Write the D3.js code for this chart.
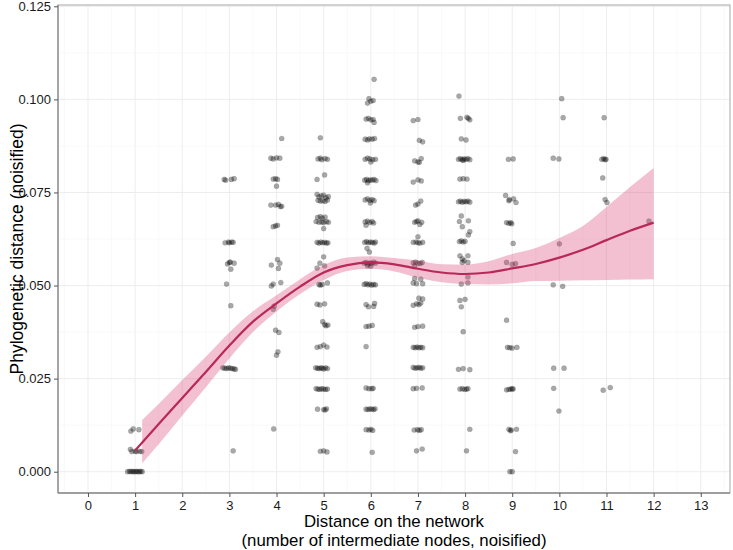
<!DOCTYPE html>
<html><head><meta charset="utf-8">
<script src="https://cdn.jsdelivr.net/npm/d3@7"></script>
<style>body{margin:0;background:#fff}svg{display:block}text{font-family:"Liberation Sans",Arial,sans-serif}</style>
</head><body><svg id="c" width="733" height="550"></svg>
<script>
// ---- data ----
const xTicks = [0,1,2,3,4,5,6,7,8,9,10,11,12,13];
const yTicks = [0.000,0.025,0.050,0.075,0.100,0.125];
const yTickLabels = ["0.000","0.025","0.050","0.075","0.100","0.125"];

const ptsD1 = [[0.84,0],[0.88,0.0001],[0.91,0],[0.94,0.0001],[0.97,0],[1.0,0],[1.03,0.0001],[1.06,0],[1.09,0],[1.12,0.0001],[1.15,0],
 [0.9,0.006],[0.93,0.0054],[1.0,0.0055],[1.03,0.0054],[1.1,0.0055],[1.14,0.0054],[0.91,0.0109],[0.96,0.0115],[1.08,0.0113]];
const ptsD3 = [[2.89,0.0785],[2.92,0.0783],[3.04,0.0785],[3.1,0.0787],
 [2.91,0.0615],[2.98,0.0617],[3.0,0.0615],[3.05,0.0617],[3.08,0.0616],
 [2.96,0.0558],[3.0,0.0562],[3.02,0.0563],[3.1,0.056],[3.03,0.0544],[2.94,0.0504],[3.03,0.0446],
 [2.86,0.0279],[2.9,0.0278],[2.94,0.0277],[2.98,0.0279],[3.02,0.0278],[3.06,0.0277],[3.1,0.0276],[3.13,0.0275],[3.08,0.0056]];
const ptsD4 = [[4.11,0.0895],[3.88,0.0842],[3.93,0.084],[4.0,0.0843],[4.07,0.0842],
 [3.93,0.0786],[3.98,0.0787],[4.02,0.0785],[4.0,0.0767],
 [3.88,0.0716],[3.98,0.0716],[4.04,0.0718],[4.11,0.0713],[4.08,0.0712],
 [3.93,0.0658],[3.98,0.066],[4.02,0.0662],[4.02,0.057],[3.89,0.0555],[4.07,0.056],[4.04,0.0546],
 [3.89,0.0499],[3.93,0.0504],[4.09,0.0508],[3.93,0.0436],[3.95,0.0445],[3.98,0.038],[4.05,0.0374],
 [4.0,0.0313],[4.03,0.0322],[3.94,0.0115]];
const ptsD5 = [[4.93,0.0897],[4.88,0.084],[4.93,0.0842],[4.96,0.0838],[5.03,0.0841],[5.08,0.0839],
 [4.86,0.0785],[5.02,0.0797],
 [4.86,0.0745],[4.9,0.0738],[4.95,0.0741],[5.0,0.0743],[5.05,0.0736],[5.1,0.0739],
 [4.88,0.0729],[4.93,0.0727],[4.98,0.0728],[5.03,0.0726],[5.08,0.073],
 [4.87,0.0683],[4.93,0.0685],[4.97,0.0681],[5.03,0.0684],
 [4.84,0.0672],[4.9,0.067],[4.96,0.0671],[5.0,0.0669],[5.06,0.0672],[5.1,0.067],[5.0,0.0653],
 [4.86,0.0616],[4.9,0.0614],[4.94,0.0617],[4.98,0.0615],[5.02,0.0616],[5.06,0.0614],[5.09,0.0615],
 [5.0,0.0577],[4.86,0.0547],[4.92,0.056],[5.02,0.0553],[5.08,0.0507],
 [4.9,0.0503],[4.93,0.0501],[4.97,0.0503],[4.86,0.045],[4.92,0.0448],[5.02,0.0451],
 [4.98,0.0403],[5.02,0.0395],[5.05,0.0392],[5.09,0.0394],
 [4.86,0.0334],[4.93,0.0336],[5.0,0.034],[5.07,0.0335],
 [4.83,0.0279],[4.87,0.0278],[4.9,0.0277],[4.94,0.0279],[4.97,0.0278],[5.0,0.0276],[5.04,0.0279],[5.08,0.0277],
 [4.84,0.0223],[4.88,0.0222],[4.92,0.0221],[4.96,0.0223],[5.0,0.0222],[5.04,0.0221],[5.08,0.0222],
 [4.87,0.0168],[5.0,0.0167],[5.06,0.0169],[5.03,0.0166],[4.93,0.0055],[5.0,0.0056],[5.07,0.0053]];
const ptsD6 = [[6.07,0.1054],[5.96,0.1002],[6.0,0.0995],[6.05,0.0997],[5.93,0.099],
 [5.9,0.0947],[5.95,0.0949],[6.0,0.0945],[6.05,0.0946],[6.07,0.0938],
 [5.88,0.0893],[5.93,0.0891],[5.97,0.0894],[6.03,0.0893],[6.08,0.0895],
 [5.88,0.0839],[5.93,0.0842],[5.98,0.084],[6.04,0.0838],[6.1,0.0839],[6.0,0.0832],
 [5.87,0.0783],[5.91,0.0785],[5.95,0.0782],[5.99,0.0784],[6.03,0.0783],[6.07,0.0785],[6.11,0.0782],[5.93,0.0776],
 [5.88,0.073],[5.93,0.0733],[5.98,0.0729],[6.03,0.0731],[6.07,0.0728],[5.99,0.0722],
 [5.88,0.0671],[5.93,0.0673],[5.98,0.0669],[6.03,0.0672],[6.06,0.0668],[5.9,0.0662],
 [5.87,0.0616],[5.91,0.0618],[5.95,0.0615],[5.99,0.0617],[6.03,0.0616],[6.07,0.0614],[6.1,0.0617],[5.92,0.06],[5.97,0.059],
 [5.86,0.056],[5.9,0.0562],[5.94,0.0558],[5.98,0.0561],[6.02,0.0559],[6.06,0.0563],[6.1,0.056],[5.93,0.0553],[6.0,0.0552],
 [5.86,0.0503],[5.9,0.0505],[5.94,0.0502],[5.98,0.0504],[6.02,0.0501],[6.06,0.0503],[6.1,0.0502],
 [5.9,0.0449],[5.95,0.0443],[6.08,0.0452],[6.06,0.0444],[5.9,0.039],[5.96,0.0391],[6.03,0.0393],[5.9,0.0336],
 [5.9,0.0225],[5.96,0.0223],[6.02,0.0223],[6.05,0.0224],
 [5.9,0.0168],[5.94,0.0167],[5.98,0.0169],[6.02,0.0168],[6.06,0.0167],[6.09,0.0169],
 [5.9,0.0113],[5.96,0.0112],[6.04,0.0111],[6.0,0.0114],[6.03,0.0052]];
const ptsD7 = [[6.9,0.0943],[7.0,0.0946],[7.03,0.089],[7.1,0.0886],
 [6.93,0.0835],[7.0,0.0832],[7.07,0.0841],[7.03,0.0831],[6.9,0.0778],[7.0,0.0784],[7.07,0.0781],
 [7.06,0.0727],[6.95,0.0716],[7.0,0.0719],
 [6.93,0.067],[7.0,0.0674],[7.08,0.067],[7.04,0.0664],[6.97,0.0672],
 [7.0,0.0631],[6.9,0.0616],[6.96,0.0617],[7.0,0.0615],[7.04,0.0614],[7.1,0.0616],
 [6.9,0.0561],[6.95,0.0563],[7.0,0.056],[7.05,0.0559],[7.09,0.0562],[6.93,0.0552],
 [6.93,0.0519],[7.06,0.0517],[6.9,0.0507],[6.97,0.0505],[7.1,0.0505],[7.02,0.0466],[7.1,0.0464],
 [6.9,0.0447],[6.97,0.0451],[7.06,0.0453],[7.02,0.0449],[6.93,0.0388],[7.0,0.039],[7.1,0.0391],
 [6.9,0.0334],[6.94,0.0333],[6.98,0.0335],[7.02,0.0333],[7.06,0.0334],[7.1,0.0333],
 [6.9,0.028],[6.94,0.0278],[6.98,0.0279],[7.02,0.028],[7.06,0.0278],[7.1,0.0279],
 [6.9,0.0223],[6.97,0.0224],[7.09,0.0225],[6.92,0.0112],[6.99,0.0113],[7.07,0.0113],[7.03,0.0111],
 [6.97,0.0056],[7.09,0.0061]];
const ptsD8 = [[7.87,0.1009],[7.9,0.0949],[8.04,0.0952],[8.1,0.0945],[8.07,0.0949],[7.92,0.0894],[8.02,0.0891],
 [7.86,0.0839],[7.9,0.0841],[7.94,0.0838],[7.98,0.084],[8.02,0.0839],[8.06,0.0841],[8.1,0.0838],[7.96,0.0836],
 [7.89,0.0786],[7.96,0.0787],[8.04,0.0786],
 [7.86,0.0725],[7.9,0.0727],[7.94,0.0724],[7.98,0.0726],[8.02,0.0725],[8.06,0.0727],[8.1,0.0724],
 [7.92,0.0687],[7.88,0.0672],[8.07,0.0674],[7.94,0.0658],
 [8.1,0.0645],[8.07,0.0636],[7.88,0.0618],[7.92,0.062],[7.96,0.0617],[8.0,0.0619],
 [7.89,0.058],[8.06,0.058],[7.94,0.0572],[7.98,0.0567],[8.06,0.0562],[7.94,0.0562],
 [8.06,0.0523],[7.92,0.0504],[8.06,0.0507],[7.89,0.046],[8.0,0.0463],[7.92,0.0443],[7.96,0.0376],
 [7.86,0.0275],[7.96,0.0277],[8.1,0.0274],
 [7.89,0.0222],[7.94,0.0223],[7.99,0.0221],[8.03,0.0222],[8.06,0.0223],[8.1,0.0114],[8.03,0.0056]];
const ptsD9 = [[8.92,0.0839],[9.02,0.084],[8.86,0.0742],[8.94,0.0731],[9.03,0.0733],[9.08,0.0723],[8.93,0.0728],
 [8.88,0.0669],[8.93,0.0667],[8.97,0.0669],[8.99,0.0666],[9.02,0.0613],
 [8.88,0.0562],[9.0,0.0557],[9.07,0.0559],[8.88,0.0407],
 [8.9,0.0334],[8.95,0.0333],[9.0,0.0332],[9.1,0.0334],
 [8.88,0.022],[8.93,0.0221],[8.97,0.0222],[9.0,0.0223],[9.02,0.0222],
 [8.93,0.0114],[8.96,0.011],[8.98,0.0112],[9.09,0.0114],[9.07,0.0054],[8.95,0.0],[9.0,0.0]];
const ptsD10 = [[10.05,0.1002],[10.08,0.0951],[9.87,0.0842],[9.99,0.084],[10.0,0.0612],[9.87,0.0502],[10.07,0.0498],
 [9.88,0.0278],[10.1,0.0278],[9.88,0.0224],[9.99,0.0163]];
const ptsD11 = [[10.95,0.0951],[10.9,0.0839],[10.94,0.0841],[10.97,0.0838],[10.99,0.0839],[10.92,0.0789],
 [10.97,0.0731],[11.01,0.0723],[10.93,0.0219],[11.08,0.0226]];
const ptsD12 = [[11.9,0.0673]];

// smoother (loess fit) and its confidence band
const fitX = [1,1.5,2,2.5,3,3.5,4,4.5,5,5.5,6,6.5,7,7.5,8,8.5,9,9.5,10,10.5,11,11.5,12];
const fitY = [0.0057,0.0128,0.0198,0.0268,0.0339,0.0403,0.0452,0.0497,0.0535,0.0555,0.0562,0.0557,0.0545,0.0535,0.0531,0.0535,0.0546,0.0558,0.0575,0.0596,0.0622,0.0647,0.0669];
const bandX = [1.15,1.5,2,2.5,3,3.5,4,4.5,5,5.5,6,6.5,7,7.5,8,8.5,9,9.5,10,10.5,11,11.5,12];
const bandLo = [0.0023,0.0074,0.0151,0.0227,0.0304,0.0375,0.043,0.0477,0.0515,0.0539,0.0545,0.0538,0.0521,0.0509,0.0504,0.0503,0.0506,0.0512,0.0513,0.0514,0.0515,0.0516,0.0517];
const bandHi = [0.0139,0.0182,0.0246,0.0309,0.0374,0.0431,0.0474,0.0517,0.0555,0.0575,0.0579,0.0574,0.0567,0.0557,0.0556,0.0565,0.0585,0.0601,0.0628,0.066,0.0711,0.0765,0.0816];

// ---- drawing ----
const svg = d3.select("#c");
const L=58, R=730, T=5, B=493;
const x = d3.scaleLinear().domain([-0.636,13.62]).range([L,R]);
const y = d3.scaleLinear().domain([-0.00572,0.12535]).range([B,T]);

// grid (minor + major)
const g = svg.append("g");
const minorX = d3.range(-0.5,13.6,0.5);
const minorY = d3.range(0,0.1251,0.0125);
g.selectAll(".gx").data(minorX).enter().append("line")
 .attr("x1",d=>x(d)).attr("x2",d=>x(d)).attr("y1",T).attr("y2",B)
 .attr("stroke", d=>Number.isInteger(d)?"#ebebeb":"#f5f5f5").attr("stroke-width",d=>Number.isInteger(d)?0.9:0.6);
g.selectAll(".gy").data(minorY).enter().append("line")
 .attr("y1",d=>y(d)).attr("y2",d=>y(d)).attr("x1",L).attr("x2",R)
 .attr("stroke",(d,i)=>i%2===0?"#ebebeb":"#f5f5f5").attr("stroke-width",(d,i)=>i%2===0?0.9:0.6);

// points
const allPts = [].concat(ptsD1,ptsD3,ptsD4,ptsD5,ptsD6,ptsD7,ptsD8,ptsD9,ptsD10,ptsD11,ptsD12);
svg.append("g").selectAll("circle").data(allPts).enter().append("circle")
 .attr("cx",d=>x(d[0])).attr("cy",d=>y(d[1])).attr("r",2.6)
 .attr("fill","#000").attr("fill-opacity",0.34)
 .attr("stroke","#000").attr("stroke-opacity",0.12).attr("stroke-width",0.6);

// ribbon
const band = bandX.map((v,i)=>({x:v,lo:bandLo[i],hi:bandHi[i]}));
svg.append("path").datum(band)
 .attr("d",d3.area().x(d=>x(d.x)).y0(d=>y(d.lo)).y1(d=>y(d.hi)).curve(d3.curveMonotoneX))
 .attr("fill","#d8416f").attr("fill-opacity",0.33);
// line
const fit = fitX.map((v,i)=>({x:v,y:fitY[i]}));
svg.append("path").datum(fit)
 .attr("d",d3.line().x(d=>x(d.x)).y(d=>y(d.y)).curve(d3.curveMonotoneX))
 .attr("fill","none").attr("stroke","#b8285b").attr("stroke-width",2.2);

// panel border
svg.append("rect").attr("x",L).attr("y",T).attr("width",R-L).attr("height",B-T)
 .attr("fill","none").attr("stroke","#a8a8a8").attr("stroke-width",1);
svg.append("line").attr("x1",L).attr("x2",L).attr("y1",T).attr("y2",B).attr("stroke","#8c8c8c").attr("stroke-width",1.3);
svg.append("line").attr("x1",L).attr("x2",R).attr("y1",B).attr("y2",B).attr("stroke","#8c8c8c").attr("stroke-width",1.3);

// axes
const xAxis = d3.axisBottom(x).tickValues(xTicks).tickSize(4).tickPadding(4).tickFormat(d3.format("d"));
const xa = svg.append("g").attr("transform",`translate(0,${B})`).call(xAxis);
xa.select(".domain").remove();
xa.selectAll("line").attr("stroke","#555");
xa.selectAll("text").attr("font-size",13).attr("fill","#1a1a1a").style("font-family","'Liberation Sans',Arial,sans-serif");

const yAxis = d3.axisLeft(y).tickValues(yTicks).tickSize(4).tickPadding(3).tickFormat((d,i)=>yTickLabels[i]);
const ya = svg.append("g").attr("transform",`translate(${L},0)`).call(yAxis);
ya.select(".domain").remove();
ya.selectAll("line").attr("stroke","#555");
ya.selectAll("text").attr("font-size",13).attr("fill","#1a1a1a").style("font-family","'Liberation Sans',Arial,sans-serif");

// titles
svg.append("text").attr("x",(L+R)/2).attr("y",527).attr("text-anchor","middle").attr("font-size",16.8).attr("fill","#000").text("Distance on the network");
svg.append("text").attr("x",(L+R)/2).attr("y",546).attr("text-anchor","middle").attr("font-size",16.8).attr("fill","#000").text("(number of intermediate nodes, noisified)");
svg.append("text").attr("transform",`translate(23,${(T+B)/2}) rotate(-90)`).attr("text-anchor","middle").attr("font-size",17.5).attr("fill","#000").text("Phylogenetic distance (noisified)");
</script></body></html>
